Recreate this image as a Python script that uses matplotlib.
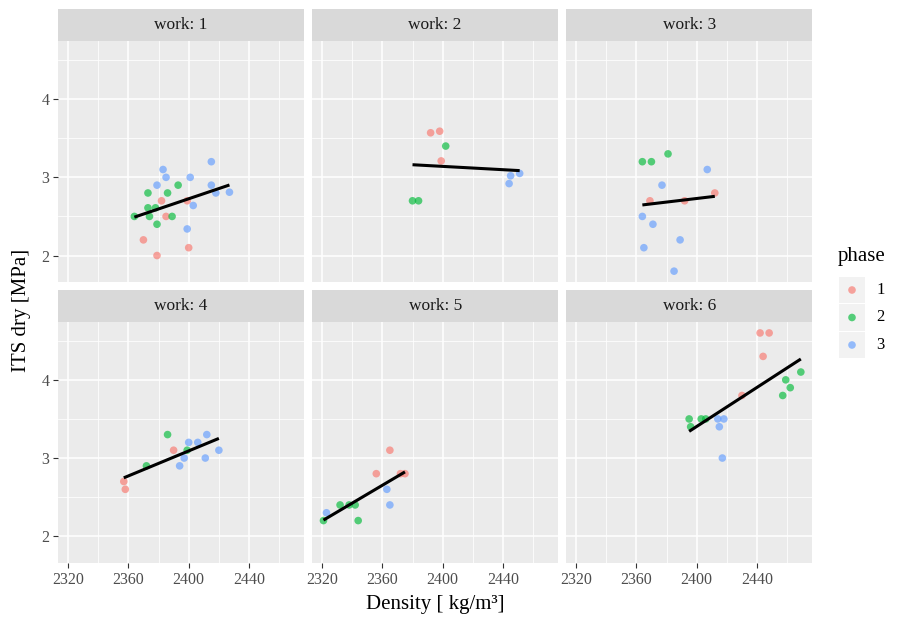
import matplotlib
matplotlib.use("Agg")
import matplotlib.pyplot as plt
import numpy as np

plt.rcParams['font.family'] = ['Liberation Serif', 'DejaVu Serif']

# ---- data ----
work1_phase = [3]*10 + [2]*9 + [1]*6
work1_density = [2383, 2415, 2385, 2401, 2379, 2415, 2418, 2427, 2403, 2399,
                 2393, 2373, 2386, 2373, 2378, 2364, 2374, 2389, 2379,
                 2382, 2399, 2385, 2370, 2400, 2379]
work1_its = [3.1, 3.2, 3.0, 3.0, 2.9, 2.9, 2.8, 2.81, 2.64, 2.34,
             2.9, 2.8, 2.8, 2.61, 2.61, 2.5, 2.5, 2.5, 2.4,
             2.7, 2.7, 2.5, 2.2, 2.1, 2.0]

work2_phase = [1, 1, 1, 2, 2, 2, 3, 3, 3]
work2_density = [2392, 2398, 2399, 2402, 2380, 2384, 2445, 2451, 2444]
work2_its = [3.57, 3.59, 3.21, 3.4, 2.7, 2.7, 3.02, 3.05, 2.92]

work3_phase = [2, 2, 2, 3, 3, 1, 1, 1, 3, 3, 3, 3, 3]
work3_density = [2364, 2370, 2381, 2407, 2377, 2369, 2392, 2412, 2364, 2371, 2389, 2365, 2385]
work3_its = [3.2, 3.2, 3.3, 3.1, 2.9, 2.7, 2.7, 2.8, 2.5, 2.4, 2.2, 2.1, 1.8]

work4_phase = [2, 1, 2, 3, 3, 3, 3, 3, 3, 3, 2, 1, 1]
work4_density = [2386, 2390, 2399, 2400, 2406, 2412, 2420, 2397, 2411, 2394, 2372, 2357, 2358]
work4_its = [3.3, 3.1, 3.1, 3.2, 3.2, 3.3, 3.1, 3.0, 3.0, 2.9, 2.9, 2.7, 2.6]

work5_phase = [1, 1, 1, 1, 3, 3, 2, 2, 2, 3, 2, 2]
work5_density = [2365, 2356, 2372, 2375, 2363, 2365, 2332, 2338, 2342, 2323, 2321, 2344]
work5_its = [3.1, 2.8, 2.8, 2.8, 2.6, 2.4, 2.4, 2.4, 2.4, 2.3, 2.2, 2.2]

work6_phase = [1, 1, 1, 1, 2, 2, 2, 2, 2, 2, 2, 2, 3, 3, 3, 3]
work6_density = [2442, 2448, 2444, 2430, 2469, 2459, 2462, 2457, 2395, 2396, 2403, 2406,
                 2414, 2418, 2415, 2417]
work6_its = [4.6, 4.6, 4.3, 3.8, 4.1, 4.0, 3.9, 3.8, 3.5, 3.4, 3.5, 3.5,
             3.5, 3.5, 3.4, 3.0]

works = [1, 2, 3, 4, 5, 6]
densities = [work1_density, work2_density, work3_density, work4_density, work5_density, work6_density]
its_values = [work1_its, work2_its, work3_its, work4_its, work5_its, work6_its]
phases = [work1_phase, work2_phase, work3_phase, work4_phase, work5_phase, work6_phase]

phase_levels = [1, 2, 3]
phase_colors = {1: '#F8766D', 2: '#00BA38', 3: '#619CFF'}
x_ticks = [2320, 2360, 2400, 2440]
y_ticks = [2, 3, 4]

# ---- layout ----
W, H = 897, 622
fig = plt.figure(figsize=(W/100, H/100), dpi=100)

all_x = np.concatenate([np.array(d, float) for d in densities])
all_y = np.concatenate([np.array(v, float) for v in its_values])
xr = all_x.max() - all_x.min()
yr = all_y.max() - all_y.min()
xlim = (all_x.min() - 0.05*xr, all_x.max() + 0.05*xr)
ylim = (all_y.min() - 0.05*yr, all_y.max() + 0.05*yr)

pw, gap = 245.7, 8.3
left0 = 58.3
panel_tops = [41.3, 322.0]
ph = 240.8
strip_h = 32.3

def add_px_axes(x0, y0, w, h):
    return fig.add_axes([x0/W, 1 - (y0+h)/H, w/W, h/H])

for i, work in enumerate(works):
    r, c = divmod(i, 3)
    x0 = left0 + c*(pw+gap)
    y0 = panel_tops[r]
    ax = add_px_axes(x0, y0, pw, ph)
    ax.set_facecolor('#EBEBEB')
    for s in ax.spines.values():
        s.set_visible(False)
    ax.set_xlim(*xlim)
    ax.set_ylim(*ylim)
    ax.set_xticks(x_ticks)
    ax.set_yticks(y_ticks)
    ax.set_xticks([2340, 2380, 2420, 2460], minor=True)
    ax.set_yticks([2.5, 3.5, 4.5], minor=True)
    ax.grid(True, which='major', color='white', lw=1.1)
    ax.grid(True, which='minor', color='white', lw=0.55)
    ax.set_axisbelow(True)
    ax.tick_params(which='minor', length=0)
    ax.tick_params(which='major', length=3.5, width=0.8, color='#333333',
                   labelsize=11.5, labelcolor='#4D4D4D', pad=3)
    if c != 0:
        ax.tick_params(axis='y', which='major', length=0, labelleft=False)
    if r != 1:
        ax.tick_params(axis='x', which='major', length=0, labelbottom=False)

    d = np.array(densities[i], float)
    v = np.array(its_values[i], float)
    p = np.array(phases[i])
    for ph_ in phase_levels:
        m = p == ph_
        ax.scatter(d[m], v[m], s=30, color=phase_colors[ph_], alpha=0.65,
                   edgecolors='none', zorder=3)
    k, b = np.polyfit(d, v, 1)
    xs = np.array([d.min(), d.max()])
    ax.plot(xs, k*xs + b, color='black', lw=2.2, zorder=4, solid_capstyle='butt')

    sax = add_px_axes(x0, y0 - strip_h, pw, strip_h)
    sax.set_facecolor('#D9D9D9')
    sax.set_xticks([]); sax.set_yticks([])
    for s in sax.spines.values():
        s.set_visible(False)
    sax.text(0.5, 0.5, f'work: {work}', ha='center', va='center',
             fontsize=12.5, color='#1A1A1A', transform=sax.transAxes)

fig.text(22/W, 1 - 310/H, 'ITS dry [MPa]', rotation=90, ha='center', va='center',
         fontsize=15, color='black')
fig.text(435/W, 1 - 605/H, 'Density [ kg/m\u00b3]', ha='center', va='center',
         fontsize=15, color='black')

# legend
fig.text(838/W, 1 - 257/H, 'phase', ha='left', va='center', fontsize=15)
for j, ph_ in enumerate(phase_levels):
    yc = 290 + j*27.5
    kax = add_px_axes(839, yc - 13, 26, 26)
    kax.set_facecolor('#F2F2F2')
    kax.set_xticks([]); kax.set_yticks([])
    for s in kax.spines.values():
        s.set_visible(False)
    kax.set_xlim(0, 1); kax.set_ylim(0, 1)
    kax.scatter([0.5], [0.5], s=30, color=phase_colors[ph_], alpha=0.65, edgecolors='none')
    fig.text(876/W, 1 - yc/H, str(ph_), ha='left', va='center', fontsize=12)

fig.savefig('out.png', dpi=100, facecolor='white')
